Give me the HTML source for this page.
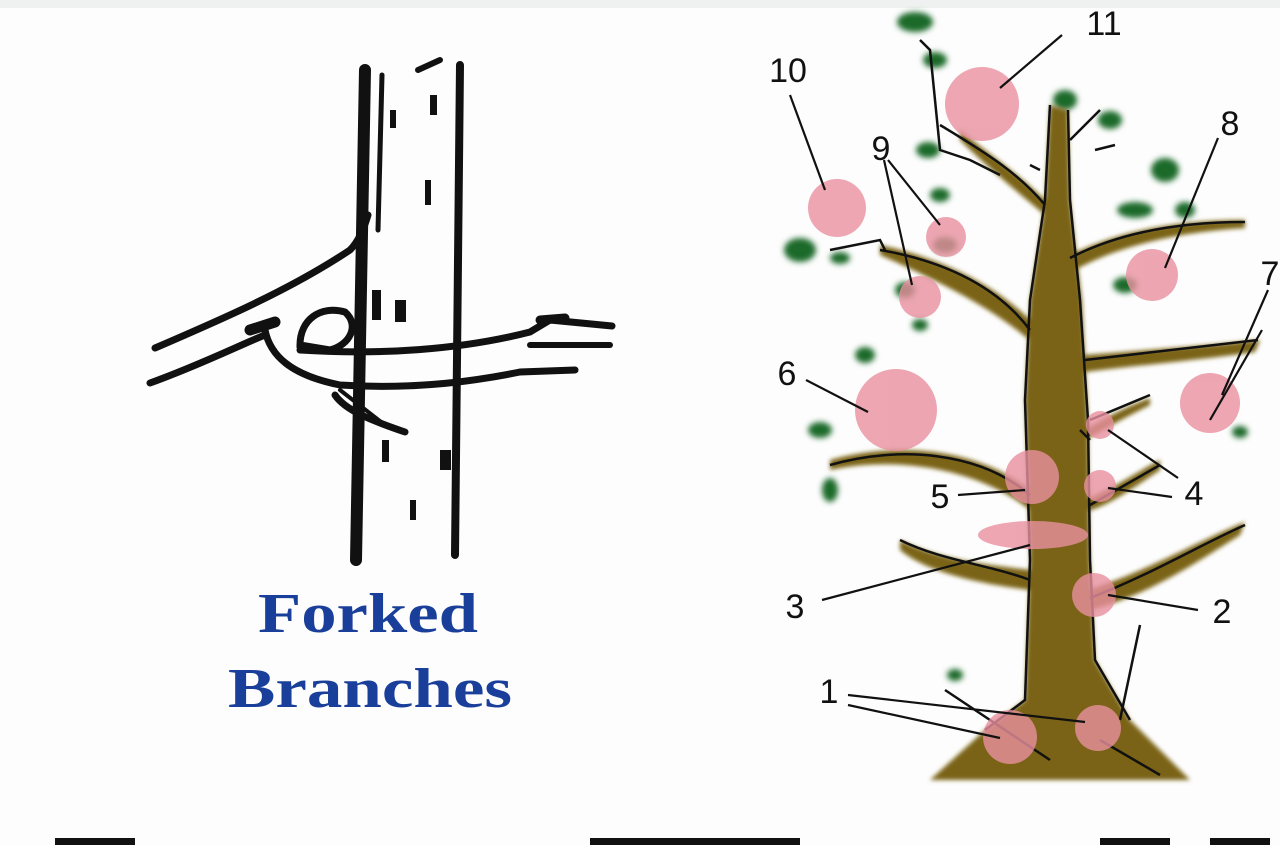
<!DOCTYPE html>
<html><head><style>
html,body{margin:0;padding:0;background:#fff;}
body{width:1280px;height:845px;overflow:hidden;position:relative;}
</style></head><body>
<svg width="1280" height="845" viewBox="0 0 1280 845" xmlns="http://www.w3.org/2000/svg">
<defs>
<filter id="bl" x="-20%" y="-20%" width="140%" height="140%"><feGaussianBlur stdDeviation="3"/></filter>
<filter id="bl2"><feGaussianBlur stdDeviation="2"/></filter>
</defs>
<rect width="1280" height="845" fill="#fdfdfd"/>
<rect x="0" y="0" width="1280" height="8" fill="#eef1ef"/>
<!-- bottom bars -->
<rect x="55" y="838" width="80" height="7" fill="#111"/>
<rect x="590" y="838" width="210" height="7" fill="#111"/>
<rect x="1100" y="838" width="70" height="7" fill="#111"/>
<rect x="1210" y="838" width="60" height="7" fill="#111"/>

<!-- LEFT drawing -->
<g stroke="#111" fill="none" stroke-linecap="round">
<path d="M365 70 L356 560" stroke-width="12"/>
<path d="M460 65 L455 555" stroke-width="8"/>
<path d="M382 75 L378 230" stroke-width="5"/>
<path d="M418 70 L440 60" stroke-width="6"/>
<path d="M155 348 C220 320 290 290 350 250 C360 240 365 225 368 215" stroke-width="7"/>
<path d="M150 383 C200 365 240 345 265 335" stroke-width="7"/>
<path d="M265 330 C270 355 290 375 340 385 C420 390 480 380 520 372 L575 370" stroke-width="7"/>
<path d="M300 345 C300 320 320 305 345 312 C360 325 350 345 330 350 Z" stroke-width="7"/>
<path d="M300 350 C380 355 460 350 530 332 L550 320 L612 326" stroke-width="7"/>
<path d="M530 345 L610 345" stroke-width="6"/>
<path d="M540 320 L565 318" stroke-width="9"/>
<path d="M335 395 C345 410 370 420 405 432" stroke-width="7"/>
<path d="M340 390 L385 425" stroke-width="4"/>
<path d="M250 330 L275 322" stroke-width="11"/>
</g>
<g fill="#111">
<rect x="372" y="290" width="9" height="30"/><rect x="395" y="300" width="11" height="22"/>
<rect x="430" y="95" width="7" height="20"/><rect x="425" y="180" width="6" height="25"/>
<rect x="440" y="450" width="11" height="20"/><rect x="382" y="440" width="7" height="22"/>
<rect x="410" y="500" width="6" height="20"/><rect x="390" y="110" width="6" height="18"/>
</g>
<text x="258" y="632" textLength="220" lengthAdjust="spacingAndGlyphs" font-family="Liberation Serif,serif" font-weight="bold" font-size="56" fill="#1a3f9a">Forked</text>
<text x="228" y="707" textLength="284" lengthAdjust="spacingAndGlyphs" font-family="Liberation Serif,serif" font-weight="bold" font-size="56" fill="#1a3f9a">Branches</text>

<!-- RIGHT tree -->
<g fill="#1f6a2c" filter="url(#bl)">
<ellipse cx="915" cy="22" rx="18" ry="10"/><ellipse cx="935" cy="60" rx="12" ry="8"/>
<ellipse cx="1065" cy="100" rx="12" ry="10"/><ellipse cx="1110" cy="120" rx="12" ry="9"/>
<ellipse cx="928" cy="150" rx="12" ry="8"/><ellipse cx="1165" cy="170" rx="14" ry="12"/>
<ellipse cx="1135" cy="210" rx="18" ry="8"/><ellipse cx="1185" cy="210" rx="10" ry="8"/>
<ellipse cx="800" cy="250" rx="16" ry="12"/><ellipse cx="840" cy="258" rx="10" ry="6"/>
<ellipse cx="940" cy="195" rx="10" ry="7"/><ellipse cx="945" cy="245" rx="12" ry="8"/>
<ellipse cx="905" cy="290" rx="10" ry="8"/><ellipse cx="920" cy="325" rx="8" ry="6"/>
<ellipse cx="865" cy="355" rx="10" ry="8"/><ellipse cx="820" cy="430" rx="12" ry="8"/>
<ellipse cx="830" cy="490" rx="8" ry="12"/><ellipse cx="1125" cy="285" rx="12" ry="8"/>
<ellipse cx="1240" cy="432" rx="8" ry="6"/><ellipse cx="955" cy="675" rx="8" ry="6"/>
</g>
<g fill="#7a6414" filter="url(#bl2)">
<path d="M1050 105 L1068 110 L1070 200 L1082 300 L1088 420 L1090 560 L1095 660 L1130 720 L1190 780 L930 780 L985 730 L1025 700 L1030 560 L1025 400 L1030 300 L1045 200 Z"/>
<path d="M880 245 C950 260 1000 290 1030 320 L1040 350 C1010 320 960 290 880 255 Z"/>
<path d="M1070 255 C1120 230 1180 220 1245 220 L1245 228 C1180 232 1120 245 1075 270 Z"/>
<path d="M1085 355 C1150 350 1210 345 1260 340 L1255 352 C1200 360 1140 365 1085 372 Z"/>
<path d="M1085 430 C1110 415 1130 405 1150 398 L1150 405 C1120 420 1100 432 1085 440 Z"/>
<path d="M1085 500 C1120 485 1140 470 1160 460 L1160 470 C1130 490 1110 505 1085 512 Z"/>
<path d="M1088 590 C1150 570 1200 540 1245 522 L1240 535 C1200 560 1150 595 1090 610 Z"/>
<path d="M830 460 C900 440 980 450 1030 490 L1030 510 C980 470 900 455 830 470 Z"/>
<path d="M900 540 C940 560 990 565 1030 570 L1030 590 C990 585 930 575 900 550 Z"/>
<path d="M960 130 C990 155 1020 175 1045 200 L1045 215 C1015 190 985 165 960 140 Z"/>
</g>
<g stroke="#111" stroke-width="2.5" fill="none">
<path d="M1050 105 L1045 200 L1030 300 L1025 400 L1030 560 L1025 700 L985 730"/>
<path d="M1068 110 L1070 200 L1080 300 L1088 420 L1090 560 L1095 660 L1130 720"/>
<path d="M880 250 C950 262 1000 290 1030 330"/>
<path d="M1070 258 C1120 232 1180 222 1245 222"/>
<path d="M1085 360 C1150 352 1210 346 1258 340"/>
<path d="M830 465 C900 445 980 452 1030 495"/>
<path d="M900 540 C940 560 990 565 1030 580"/>
<path d="M1090 598 C1150 575 1200 545 1245 525"/>
<path d="M940 125 C990 155 1020 175 1045 205"/>
<path d="M1030 165 L1040 170 M1095 150 L1115 145 M1100 110 L1070 140"/>
<path d="M945 690 L1050 760 M1140 625 L1120 720 M1100 740 L1160 775"/>
<path d="M920 40 L930 50 L940 150 L970 160 L1000 175 M830 250 L880 240 L885 250"/>
<path d="M1090 420 L1150 395 M1090 505 L1160 465 M1090 440 L1080 430"/>
</g>
<g fill="#e8909f" opacity="0.8">
<circle cx="982" cy="104" r="37"/><circle cx="837" cy="208" r="29"/>
<circle cx="946" cy="237" r="20"/><circle cx="920" cy="297" r="21"/>
<circle cx="1152" cy="275" r="26"/><circle cx="1210" cy="403" r="30"/>
<circle cx="896" cy="410" r="41"/><circle cx="1100" cy="425" r="14"/>
<circle cx="1032" cy="477" r="27"/><circle cx="1100" cy="486" r="16"/>
<ellipse cx="1033" cy="535" rx="55" ry="14"/><circle cx="1094" cy="595" r="22"/>
<circle cx="1010" cy="737" r="27"/><circle cx="1098" cy="728" r="23"/>
</g>
<g stroke="#111" stroke-width="2.2" fill="none">
<path d="M1062 35 L1000 88"/><path d="M790 95 L825 190"/>
<path d="M888 160 L940 225 M884 160 L912 285"/><path d="M1218 138 L1165 268"/>
<path d="M1268 290 L1222 395 M1262 330 L1210 420"/>
<path d="M806 380 L868 412"/><path d="M1178 478 L1108 430 M1172 497 L1108 488"/>
<path d="M958 495 L1025 490"/><path d="M822 600 L1030 545"/><path d="M1198 610 L1108 595"/>
<path d="M848 695 L1085 722 M848 705 L1000 738"/>
</g>
<g font-family="Liberation Sans,sans-serif" font-size="34" fill="#111" text-anchor="middle">
<text x="1104" y="35">11</text><text x="788" y="82">10</text><text x="881" y="160">9</text>
<text x="1230" y="135">8</text><text x="1270" y="285">7</text><text x="787" y="385">6</text>
<text x="940" y="508">5</text><text x="1194" y="505">4</text><text x="795" y="618">3</text>
<text x="1222" y="623">2</text><text x="829" y="703">1</text>
</g>
</svg>
</body></html>
